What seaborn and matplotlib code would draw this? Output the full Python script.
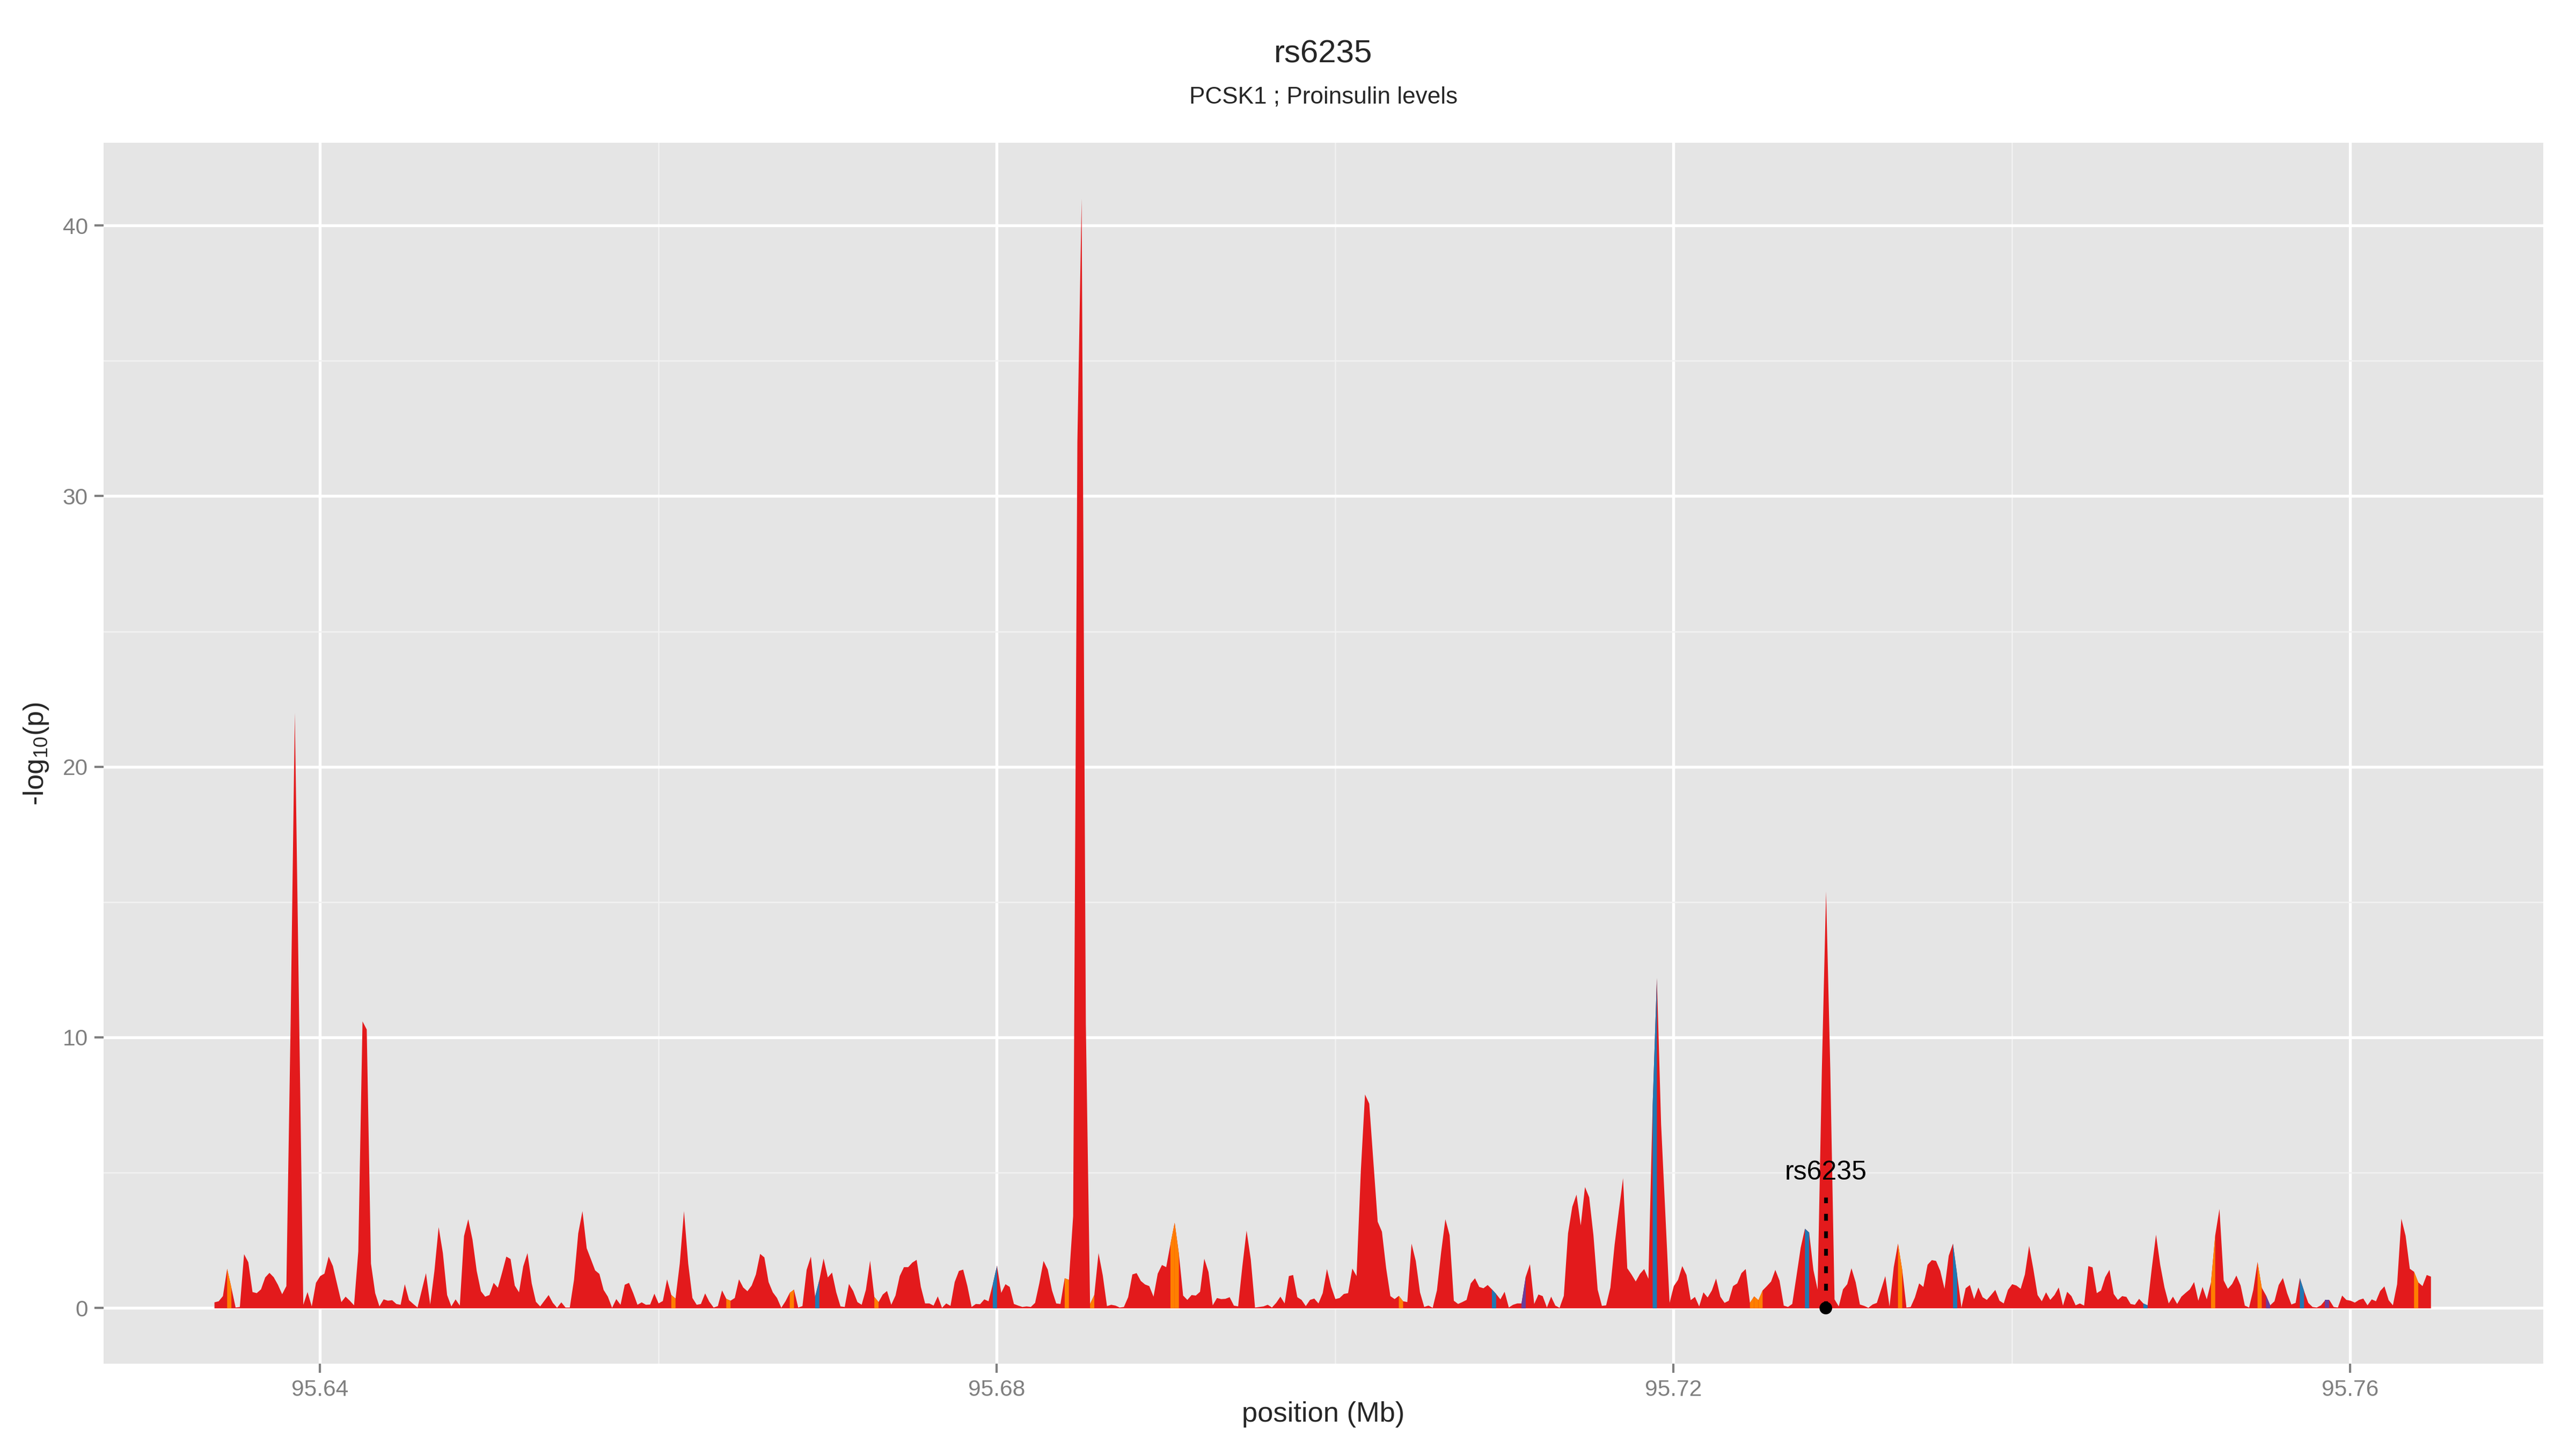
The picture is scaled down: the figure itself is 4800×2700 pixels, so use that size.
import numpy as np
import pandas as pd
import matplotlib
matplotlib.use("Agg")
import matplotlib.pyplot as plt
from matplotlib.ticker import FixedLocator, MultipleLocator
import seaborn as sns

# Regional association plot around rs6235 (PCSK1, proinsulin levels)
title = "rs6235"
subtitle = "PCSK1 ; Proinsulin levels"
lead_snp = "rs6235"

# first / last marker position in Mb (markers sit on an even grid)
start_mb = 95.63374
end_mb = 95.76476

# -log10(p) of every marker, left to right
logp = [
    0.22, 0.26, 0.45, 1.46, 0.76, 0.03, 0.05, 2.0, 1.7, 0.6, 0.56, 0.7, 1.14, 1.31, 1.15,
    0.87, 0.52, 0.82, 10.5, 22.0, 11.0, 0.13, 0.6, 0.07, 0.94, 1.19, 1.28, 1.91, 1.56, 0.89,
    0.23, 0.43, 0.28, 0.11, 2.1, 10.6, 10.3, 1.65, 0.56, 0.07, 0.33, 0.28, 0.3, 0.16, 0.13,
    0.89, 0.3, 0.16, 0.03, 0.66, 1.3, 0.14, 1.38, 3.0, 2.04, 0.49, 0.07, 0.33, 0.1, 2.67,
    3.29, 2.54, 1.38, 0.63, 0.43, 0.49, 0.94, 0.76, 1.32, 1.91, 1.82, 0.84, 0.59, 1.55, 2.04,
    0.92, 0.24, 0.07, 0.28, 0.49, 0.2, 0.02, 0.22, 0.03, 0.03, 1.05, 2.77, 3.59, 2.22, 1.81,
    1.4, 1.27, 0.68, 0.43, 0.02, 0.34, 0.13, 0.87, 0.94, 0.56, 0.13, 0.22, 0.13, 0.14, 0.54,
    0.18, 0.27, 1.07, 0.49, 0.36, 1.65, 3.59, 1.65, 0.38, 0.13, 0.16, 0.55, 0.24, 0.03, 0.08,
    0.66, 0.35, 0.28, 0.38, 1.07, 0.77, 0.63, 0.84, 1.25, 2.01, 1.88, 0.97, 0.59, 0.38, 0.02,
    0.26, 0.57, 0.69, 0.03, 0.08, 1.42, 1.91, 0.43, 1.05, 1.84, 1.14, 1.32, 0.59, 0.07, 0.05,
    0.9, 0.64, 0.23, 0.13, 0.68, 1.76, 0.42, 0.23, 0.51, 0.64, 0.13, 0.47, 1.19, 1.52, 1.52,
    1.69, 1.79, 0.79, 0.18, 0.18, 0.1, 0.44, 0.02, 0.18, 0.09, 0.97, 1.38, 1.43, 0.82, 0.05,
    0.16, 0.15, 0.33, 0.26, 0.89, 1.58, 0.57, 0.89, 0.79, 0.16, 0.1, 0.05, 0.07, 0.05, 0.2,
    0.92, 1.75, 1.43, 0.66, 0.18, 0.16, 1.11, 1.05, 3.4, 32.0, 41.0, 10.5, 0.16, 0.49, 2.04,
    1.22, 0.08, 0.13, 0.1, 0.03, 0.05, 0.41, 1.25, 1.3, 1.01, 0.88, 0.82, 0.43, 1.28, 1.6,
    1.52, 2.37, 3.16, 2.01, 0.47, 0.31, 0.49, 0.47, 0.61, 1.83, 1.34, 0.11, 0.38, 0.34, 0.35,
    0.41, 0.1, 0.07, 1.55, 2.87, 1.8, 0.03, 0.05, 0.07, 0.13, 0.03, 0.2, 0.43, 0.18, 1.19,
    1.23, 0.41, 0.31, 0.08, 0.31, 0.36, 0.18, 0.56, 1.45, 0.8, 0.34, 0.38, 0.53, 0.56, 1.47,
    1.19, 5.04, 7.9, 7.56, 5.37, 3.2, 2.83, 1.48, 0.45, 0.34, 0.46, 0.26, 0.23, 2.39, 1.75,
    0.59, 0.05, 0.1, 0.02, 0.66, 2.08, 3.29, 2.7, 0.28, 0.16, 0.23, 0.31, 0.92, 1.11, 0.79,
    0.74, 0.86, 0.7, 0.53, 0.33, 0.61, 0.03, 0.13, 0.18, 0.18, 1.17, 1.63, 0.16, 0.51, 0.45,
    0.03, 0.43, 0.1, 0.02, 0.46, 2.77, 3.75, 4.2, 3.06, 4.48, 4.1, 2.7, 0.69, 0.09, 0.11,
    0.76, 2.34, 3.59, 4.81, 1.48, 1.25, 0.99, 1.27, 1.45, 1.09, 7.5, 12.2, 6.8, 3.5, 0.2,
    0.82, 1.05, 1.56, 1.23, 0.3, 0.42, 0.07, 0.59, 0.4, 0.66, 1.1, 0.43, 0.2, 0.28, 0.82,
    0.92, 1.3, 1.45, 0.2, 0.44, 0.3, 0.66, 0.82, 0.99, 1.42, 1.02, 0.1, 0.05, 0.16, 1.19,
    2.24, 2.94, 2.8, 1.42, 0.69, 8.8, 15.4, 8.8, 0.33, 0.07, 0.7, 0.89, 1.48, 0.96, 0.14,
    0.09, 0.02, 0.14, 0.2, 0.69, 1.19, 0.07, 1.52, 2.39, 1.42, 0.03, 0.05, 0.4, 0.92, 0.79,
    1.61, 1.78, 1.75, 1.38, 0.72, 1.94, 2.39, 1.22, 0.03, 0.74, 0.86, 0.34, 0.77, 0.41, 0.31,
    0.49, 0.68, 0.28, 0.18, 0.68, 0.89, 0.84, 0.72, 1.25, 2.31, 1.45, 0.49, 0.26, 0.59, 0.31,
    0.49, 0.77, 0.1, 0.61, 0.45, 0.11, 0.18, 0.1, 1.56, 1.51, 0.56, 0.66, 1.15, 1.42, 0.53,
    0.31, 0.45, 0.42, 0.16, 0.13, 0.35, 0.18, 0.11, 1.48, 2.72, 1.6, 0.77, 0.18, 0.43, 0.16,
    0.43, 0.57, 0.7, 0.97, 0.28, 0.79, 0.33, 0.96, 2.7, 3.67, 1.03, 0.72, 0.9, 1.21, 0.84,
    0.1, 0.03, 0.68, 1.71, 0.76, 0.48, 0.11, 0.26, 0.86, 1.12, 0.56, 0.14, 0.2, 1.12, 0.64,
    0.2, 0.05, 0.03, 0.11, 0.3, 0.3, 0.05, 0.03, 0.47, 0.31, 0.28, 0.21, 0.31, 0.36, 0.11,
    0.33, 0.26, 0.64, 0.81, 0.3, 0.11, 0.89, 3.31, 2.68, 1.46, 1.35, 0.96, 0.82, 1.23, 1.17,
]

# segments (by index of their left marker) drawn in another LD colour; the rest are red
orange_idx = [3, 108, 121, 136, 156, 201, 207, 226, 227, 280, 363, 364, 365, 398, 472, 483, 520]
blue_idx = [142, 184, 302, 340, 376, 411, 456, 493]
purple_idx = [309, 485, 499]
lead_idx = 381

ld_colors = {"red": "#E31A1C", "orange": "#FF7F00", "blue": "#1F78B4", "purple": "#6A3D9A"}

df = pd.DataFrame({"pos": np.linspace(start_mb, end_mb, len(logp)), "logp": logp})
lead = df.iloc[[lead_idx]].assign(logp=0.0)

sns.set_theme(style="darkgrid", rc={
    "axes.facecolor": "#E5E5E5",
    "figure.facecolor": "white",
    "grid.color": "white",
    "axes.edgecolor": "#E5E5E5",
})
plt.rcParams["font.family"] = ["Liberation Sans", "DejaVu Sans"]
plt.rcParams["mathtext.fontset"] = "custom"
plt.rcParams["mathtext.rm"] = "Liberation Sans"

fig = plt.figure(figsize=(16, 9), dpi=300)
ax = fig.add_axes([0.0402, 0.059, 0.947, 0.8424])

# whole track in red, then recolour the LD segments on top
ax.fill_between(df["pos"], 0, df["logp"], color=ld_colors["red"], lw=0, zorder=2)
for name, idx in [("orange", orange_idx), ("blue", blue_idx), ("purple", purple_idx)]:
    for i in idx:
        seg = df.iloc[i:i + 2]
        ax.fill_between(seg["pos"], 0, seg["logp"], color=ld_colors[name], lw=0, zorder=3)

# lead SNP marker, dashed stalk and label
lead_pos = df["pos"].iloc[lead_idx]
ax.plot([lead_pos, lead_pos], [0, 4.1], color="black", lw=1.7, ls=(0, (1.8, 2.8)), zorder=4)
sns.scatterplot(data=lead, x="pos", y="logp", color="black", s=32, edgecolor="none",
                zorder=5, ax=ax, legend=False)
ax.text(lead_pos, 5.0, lead_snp, ha="center", va="center", fontsize=12, color="black", zorder=5)

ax.set_xlim(95.6272, 95.7714)
ax.set_ylim(-2.05, 43.05)
ax.xaxis.set_major_locator(FixedLocator([95.64, 95.68, 95.72, 95.76]))
ax.set_xticklabels(["95.64", "95.68", "95.72", "95.76"])
ax.xaxis.set_minor_locator(MultipleLocator(0.02))
ax.yaxis.set_major_locator(FixedLocator([0, 10, 20, 30, 40]))
ax.yaxis.set_minor_locator(MultipleLocator(5))
ax.grid(which="major", color="white", lw=1.3, zorder=0)
ax.grid(which="minor", color="#F2F2F2", lw=0.6, zorder=0)
ax.set_axisbelow(True)
for s in ax.spines.values():
    s.set_visible(False)
ax.tick_params(which="major", length=4, width=1, color="#7F7F7F", labelcolor="#7F7F7F",
               labelsize=10.2, pad=3, bottom=True, left=True)
ax.tick_params(which="minor", length=0)
ax.set_xlabel("")
ax.set_ylabel("")

cx = 0.0402 + 0.947 / 2
fig.text(cx, 0.9626, title, ha="center", va="center", fontsize=14.4)
fig.text(cx, 0.933, subtitle, ha="center", va="center", fontsize=10.6)
fig.text(cx, 0.0238, "position (Mb)", ha="center", va="center", fontsize=12.6)
fig.text(0.014, 0.48, r"-log$_\mathregular{10}$(p)", ha="center", va="center",
         rotation=90, fontsize=12.6)

fig.savefig("out.png", dpi=300)
